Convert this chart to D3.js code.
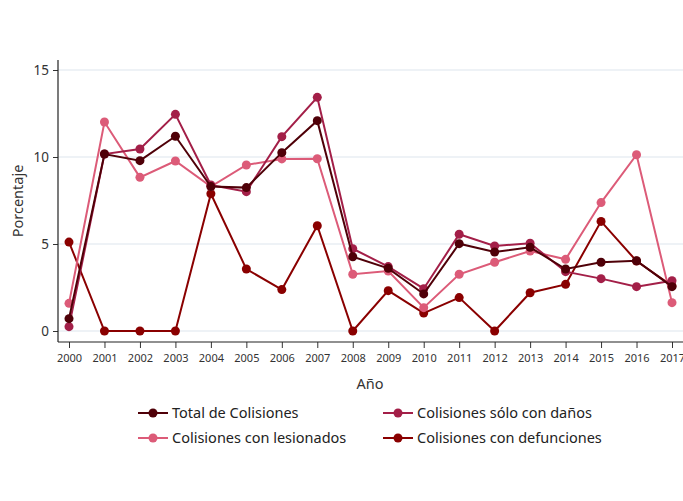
<!DOCTYPE html>
<html><head><meta charset="utf-8">
<script src="https://cdn.jsdelivr.net/npm/d3@7"></script>
<style>body{margin:0;background:#fff}svg{display:block;font-family:"Noto Sans",Lato,sans-serif}</style>
</head><body><svg id="c" width="683" height="501"></svg>
<script>
const years = ["2000","2001","2002","2003","2004","2005","2006","2007","2008","2009","2010","2011","2012","2013","2014","2015","2016","2017"];
const total = [0.71,10.17,9.79,11.19,8.3,8.24,10.25,12.09,4.27,3.6,2.13,5.02,4.54,4.81,3.56,3.95,4.04,2.55];
const danos = [0.25,10.17,10.46,12.45,8.39,8.01,11.17,13.43,4.73,3.7,2.43,5.56,4.89,5.04,3.41,3.01,2.55,2.89];
const lesionados = [1.59,12.01,8.83,9.77,8.3,9.54,9.89,9.9,3.26,3.45,1.34,3.26,3.95,4.6,4.12,7.38,10.13,1.63];
const defunciones = [5.11,0,0,0,7.89,3.56,2.38,6.05,0,2.32,1.03,1.92,0,2.2,2.68,6.3,4.02,2.59];
const yTicks = [0,5,10,15];
const seriesNames = ["Total de Colisiones","Colisiones sólo con daños","Colisiones con lesionados","Colisiones con defunciones"];
const colors = ["#4f0008","#a31f48","#dc5b78","#8a0000"];

const series = [total, danos, lesionados, defunciones].map((v,i)=>({name:seriesNames[i], values:v, color:colors[i]}));
const drawOrder = [3,2,1,0];

const svg = d3.select("#c");
const x = d3.scalePoint().domain(years).range([69,672]);
const y = d3.scaleLinear().domain([0,15]).range([331,70]);
const left = 58, bottom = 342, right = 683;

svg.append("g").selectAll("line").data(yTicks).join("line")
  .attr("x1",left).attr("x2",right).attr("y1",d=>y(d)).attr("y2",d=>y(d))
  .attr("stroke","#e8eef3").attr("stroke-width",1.5);

const ya = svg.append("g").attr("transform",`translate(${left},0)`)
  .call(d3.axisLeft(y).tickValues(yTicks).tickSize(5).tickPadding(4));
ya.select(".domain").remove();
ya.selectAll("line").attr("stroke","#333");
ya.selectAll("text").attr("font-size",13.5).attr("fill","#333").attr("font-family","Noto Sans, sans-serif");
svg.append("line").attr("x1",left).attr("x2",left).attr("y1",60).attr("y2",bottom).attr("stroke","#222").attr("stroke-width",1.2);

const xa = svg.append("g").attr("transform",`translate(0,${bottom})`)
  .call(d3.axisBottom(x).tickSize(6).tickPadding(6));
xa.select(".domain").remove();
xa.selectAll("line").attr("stroke","#333");
xa.selectAll("text").attr("font-size",11).attr("fill","#333").attr("font-family","Noto Sans, sans-serif");
svg.append("line").attr("x1",left).attr("x2",right).attr("y1",bottom).attr("y2",bottom).attr("stroke","#222").attr("stroke-width",1.2);

svg.append("text").attr("x",370).attr("y",389).attr("text-anchor","middle")
  .attr("font-size",14.5).attr("fill","#333").text("Año");
svg.append("text").attr("transform","translate(23,201) rotate(-90)").attr("text-anchor","middle")
  .attr("font-size",14.5).attr("fill","#333").text("Porcentaje");

const line = d3.line().x((d,i)=>x(years[i])).y(d=>y(d));
drawOrder.forEach(k=>{
  const s = series[k];
  const g = svg.append("g");
  g.append("path").attr("d",line(s.values)).attr("fill","none").attr("stroke",s.color).attr("stroke-width",2);
  g.selectAll("circle").data(s.values).join("circle")
    .attr("cx",(d,i)=>x(years[i])).attr("cy",d=>y(d)).attr("r",4.5).attr("fill",s.color);
});

const legPos = [[138,413],[383,413],[138,438],[383,438]];
series.forEach((s,i)=>{
  const [lx,ly] = legPos[i];
  const g = svg.append("g").attr("transform",`translate(${lx},${ly})`);
  g.append("line").attr("x1",0).attr("x2",30).attr("y1",0).attr("y2",0).attr("stroke",s.color).attr("stroke-width",2);
  g.append("circle").attr("cx",15).attr("cy",0).attr("r",4.5).attr("fill",s.color);
  g.append("text").attr("x",34).attr("y",5).attr("font-size",14.5).attr("fill","#222").text(s.name);
});
</script></body></html>
